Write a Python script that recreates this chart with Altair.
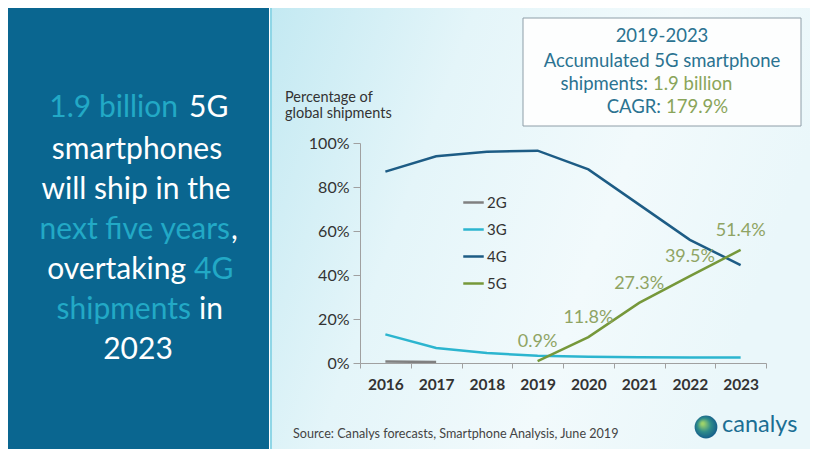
import altair as alt
import pandas as pd

# ---- data ----
years = ["2016", "2017", "2018", "2019", "2020", "2021", "2022", "2023"]
share_2g = [0.7, 0.5, None, None, None, None, None, None]
share_3g = [13.0, 6.8, 4.5, 3.3, 2.8, 2.6, 2.5, 2.5]
share_4g = [87.0, 94.0, 96.0, 96.5, 88.0, 72.0, 56.0, 44.5]
share_5g = [None, None, None, 0.9, 11.8, 27.3, 39.5, 51.4]
series = ["2G", "3G", "4G", "5G"]
series_colors = ["#808080", "#2cb5cf", "#1d5c85", "#76983a"]
y_ticks = [0, 20, 40, 60, 80, 100]

rows = []
for name, vals in zip(series, [share_2g, share_3g, share_4g, share_5g]):
    for yr, v in zip(years, vals):
        if v is not None:
            rows.append({"year": yr, "tech": name, "share": v})
df = pd.DataFrame(rows)
df5 = df[df.tech == "5G"].copy()
df5["label"] = df5["share"].map(lambda v: f"{v:.1f}%")

# plot-area origin in page pixels (reference coordinates)
OX, OY = 360, 143
W, H = 406, 220
FONT = "Lato"

def px(X):
    return X - OX

def py(Y):
    return Y - OY

one = alt.Data(values=[{"a": 1}])

def txt(s, X, Y, size, color, align="center", weight="normal", baseline="middle"):
    return alt.Chart(one).mark_text(
        text=s, fontSize=size, color=color, align=align, baseline=baseline,
        font=FONT, fontWeight=weight
    ).encode(x=alt.value(px(X)), y=alt.value(py(Y)))

def box(X1, Y1, X2, Y2, **kw):
    return alt.Chart(one).mark_rect(**kw).encode(
        x=alt.value(px(X1)), x2=alt.value(px(X2)),
        y=alt.value(py(Y1)), y2=alt.value(py(Y2)))

# ---- background panels ----
left_panel = box(0, 0, 269, 457, fill="#0a6690")
right_panel = box(271, 2, 813, 455, stroke="#8fd6e6", strokeWidth=2,
    fill=alt.Gradient(gradient="linear", x1=0, y1=0, x2=1, y2=0.3, stops=[
        alt.GradientStop(color="#c3e9f2", offset=0),
        alt.GradientStop(color="#e4f5f9", offset=0.35),
        alt.GradientStop(color="#f2fafc", offset=0.7),
        alt.GradientStop(color="#eaf7fa", offset=1),
    ]))
note_box = box(523, 18, 801, 126, fill="#fdfefe", stroke="#8e9ea8", strokeWidth=1)

CY = "#22a9c6"
WH = "#ffffff"
LS = 30
left_text = [
    txt("1.9 billion", 178, 108, LS, CY, align="right"),
    txt("5G", 189, 108, LS, WH, align="left"),
    txt("smartphones", 137, 150, LS, WH),
    txt("will ship in the", 136, 190, LS, WH),
    txt("next five years", 230, 230, LS, CY, align="right"),
    txt(",", 231, 230, LS, WH, align="left"),
    txt("overtaking", 186, 270, LS, WH, align="right"),
    txt("4G", 194, 270, LS, CY, align="left"),
    txt("shipments", 191, 310, LS, CY, align="right"),
    txt("in", 199, 310, LS, WH, align="left"),
    txt("2023", 138, 350, LS, WH),
]

BL = "#2b7391"
GR = "#8aa55a"
NS = 18.5
note_text = [
    txt("2019-2023", 662, 36, NS, BL),
    txt("Accumulated 5G smartphone", 662, 61, NS, BL),
    txt("shipments:", 648, 84, NS, BL, align="right"),
    txt("1.9 billion", 653, 84, NS, GR, align="left"),
    txt("CAGR:", 661, 107, NS, BL, align="right"),
    txt("179.9%", 666, 107, NS, GR, align="left"),
]

other_text = [
    txt("Percentage of", 285, 98, 14.5, "#333333", align="left"),
    txt("global shipments", 285, 114, 14.5, "#333333", align="left"),
    txt("Source: Canalys forecasts, Smartphone Analysis, June 2019", 293, 434, 12.6, "#444444", align="left"),
    txt("canalys", 722, 425, 23.5, "#1b6e93", align="left"),
]

globe = alt.Chart(one).mark_point(
    shape="circle", size=520, filled=True, opacity=1,
    fill=alt.RadialGradient(gradient="radial", x1=0.35, y1=0.35, r1=0.05, x2=0.5, y2=0.5, r2=0.6, stops=[
        alt.GradientStop(color="#9fd36a", offset=0),
        alt.GradientStop(color="#2e8c8a", offset=0.45),
        alt.GradientStop(color="#0d4f8c", offset=1),
    ])
).encode(x=alt.value(px(706)), y=alt.value(py(427)))

# ---- data layers ----
xenc = alt.X("year:N", sort=years, title=None,
             scale=alt.Scale(type="band", domain=years, paddingInner=0, paddingOuter=0),
             axis=alt.Axis(tickBand="extent", labelFontSize=15.5, labelFontWeight="bold",
                           labelColor="#333333", labelFont=FONT, labelAngle=0,
                           domainColor="#a0a0a0", tickColor="#a0a0a0", tickSize=5,
                           labelPadding=9, zindex=2))
yenc = alt.Y("share:Q", title=None,
             scale=alt.Scale(domain=[0, 100], nice=False),
             axis=alt.Axis(values=y_ticks, labelExpr="datum.value + '%'", labelFontSize=16,
                           labelColor="#333333", labelFont=FONT, grid=False,
                           domainColor="#a0a0a0", tickColor="#a0a0a0", tickSize=7,
                           labelPadding=4, zindex=2))

lines = alt.Chart(df).mark_line(strokeWidth=2.5).encode(
    x=xenc, y=yenc,
    color=alt.Color("tech:N", scale=alt.Scale(domain=series, range=series_colors),
                    legend=alt.Legend(title=None, orient="none", legendX=px(462), legendY=py(191),
                                      symbolType="stroke", symbolSize=420, symbolStrokeWidth=2.5,
                                      labelFontSize=15, labelColor="#333333", labelFont=FONT,
                                      rowPadding=7, labelOffset=2, padding=0)),
    detail="tech:N",
)

labels = alt.Chart(df5).mark_text(dy=-19, fontSize=18, color="#8fa463", font=FONT).encode(
    x=alt.X("year:N", sort=years), y="share:Q", text="label:N")

chart = alt.layer(
    left_panel, right_panel, note_box, *left_text, *note_text, *other_text, globe,
    lines, labels
).properties(
    width=W, height=H,
    padding={"left": OX - 8, "top": OY - 8, "right": 802 - (OX - 8) - W, "bottom": 441 - (OY - 8) - H},
    autosize=alt.AutoSizeParams(type="none"),
    background="white",
).configure_view(stroke=None)

chart.save("out.html", embed_options={"renderer": "svg", "actions": False})
